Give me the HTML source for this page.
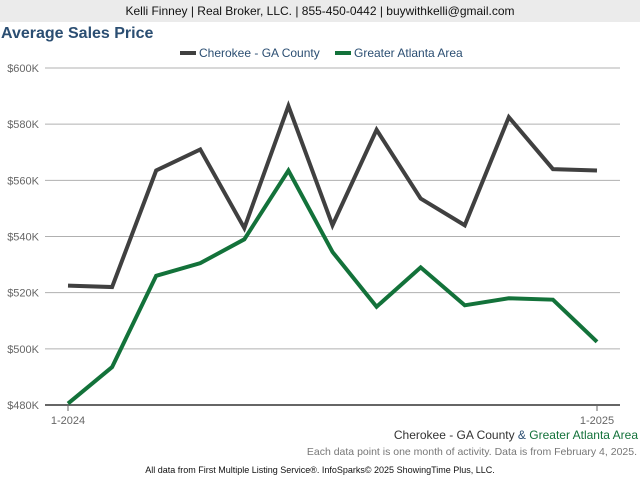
<!DOCTYPE html>
<html><head><meta charset="utf-8"><style>
body{margin:0;width:640px;height:480px;background:#fff;font-family:"Liberation Sans",sans-serif;overflow:hidden;position:relative}
.hdr{position:absolute;left:0;top:0;width:640px;height:22px;background:#ebebeb;text-align:center;font-size:12px;line-height:22px;color:#111}
.title{position:absolute;left:1px;top:25px;font-size:16px;font-weight:bold;color:#2b4e72}
svg{position:absolute;left:0;top:0}
</style></head><body>
<div class="hdr">Kelli Finney | Real Broker, LLC. | 855-450-0442 | buywithkelli@gmail.com</div>
<div class="title">Average Sales Price</div>
<svg id="c" width="640" height="480"></svg>
<script>
const categories=["1-2024","2-2024","3-2024","4-2024","5-2024","6-2024","7-2024","8-2024","9-2024","10-2024","11-2024","12-2024","1-2025"];
const cherokee=[522.5,522,563.5,571,543,586.5,544,578,553.5,544,582.5,564,563.5];
const atlanta=[480.5,493.5,526,530.5,539,563.5,534.5,515,529,515.5,518,517.5,502.5];
const yTicks=[480,500,520,540,560,580,600];
const yLabels=["$480K","$500K","$520K","$540K","$560K","$580K","$600K"];
const xLabels=["1-2024","1-2025"];
const xLabelIdx=[0,12];
const svg=document.getElementById('c');const NS='http://www.w3.org/2000/svg';
function y(v){return 405-(v-480)*(337/120);}
function x(i){return 68+i*(529/12);}
function mk(t,a,txt){const e=document.createElementNS(NS,t);for(const k in a)e.setAttribute(k,a[k]);if(txt)e.textContent=txt;svg.appendChild(e);return e;}
yTicks.forEach((v,i)=>{
 const l=mk('line',{x1:45,x2:620,y1:y(v),y2:y(v),stroke:i==0?'#666':'#b0b0b0','stroke-width':i==0?2:1});
 
 
 const t=mk('text',{x:39,y:y(v)+4,'text-anchor':'end','font-size':11,fill:'#666'},yLabels[i]);
 
 
});
xLabelIdx.forEach((ix,i)=>{
 const tk=mk('line',{x1:x(ix),x2:x(ix),y1:405,y2:411,stroke:'#666','stroke-width':1});
 
 
 const t=mk('text',{x:x(ix),y:424,'text-anchor':'middle','font-size':11,fill:'#666'},xLabels[i]);
 
 
});
function series(d,c,n){const p=mk('polyline',{points:d.map((v,i)=>x(i)+','+y(v)).join(' '),fill:'none',stroke:c,'stroke-width':4,'stroke-linejoin':'miter'});
 
 }
series(cherokee,'#404040','cherokee-line');
series(atlanta,'#13723a','atlanta-line');
let e;
e=mk('rect',{x:180,y:51,width:16,height:4,fill:'#404040'});
e=mk('text',{x:199,y:57,'font-size':12,fill:'#2b4e72'},'Cherokee - GA County');
e=mk('rect',{x:335,y:51,width:16,height:4,fill:'#13723a'});
e=mk('text',{x:354,y:57,'font-size':12,fill:'#2b4e72'},'Greater Atlanta Area');
e=mk('text',{x:638,y:439,'text-anchor':'end','font-size':12});e.innerHTML='<tspan fill="#333">Cherokee - GA County</tspan><tspan fill="#2b4e72"> &amp; </tspan><tspan fill="#13723a">Greater Atlanta Area</tspan>';

e=mk('text',{x:637,y:455,'text-anchor':'end','font-size':10.5,fill:'#777'},'Each data point is one month of activity. Data is from February 4, 2025.');

e=mk('text',{x:320,y:473,'text-anchor':'middle','font-size':9,fill:'#111'},'All data from First Multiple Listing Service®. InfoSparks© 2025 ShowingTime Plus, LLC.');

</script>
</body></html>
